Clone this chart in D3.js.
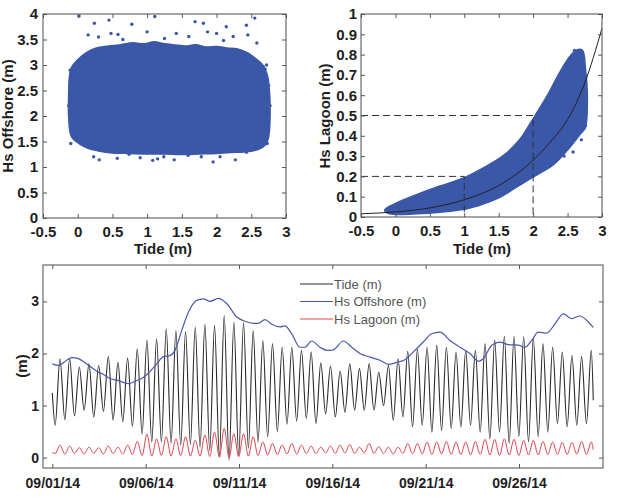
<!DOCTYPE html>
<html>
<head>
<meta charset="utf-8">
<script src="https://cdn.jsdelivr.net/npm/d3@7"></script>
<style>
body { margin: 0; background: #fff; }
svg { font-family: "Liberation Sans", Arial, sans-serif; }
</style>
</head>
<body>
<div id="chart"></div>
<script>
// ---- data ----

// top left: Hs offshore vs tide, dense cloud outline + loose points
var offCloudTide = [-0.11, -0.08, 0.0, 0.1, 0.2, 0.3, 0.45, 0.6, 0.8, 0.95, 1.1, 1.25, 1.4, 1.55, 1.7, 1.85, 2.0, 2.15, 2.3, 2.45, 2.55, 2.65, 2.72, 2.75, 2.76, 2.74, 2.7, 2.6, 2.4, 2.2, 2.0, 1.75, 1.5, 1.25, 1.0, 0.75, 0.5, 0.3, 0.15, 0.05, -0.08, -0.12, -0.12];
var offCloudHs   = [2.75, 2.95, 3.08, 3.2, 3.28, 3.33, 3.36, 3.38, 3.42, 3.4, 3.44, 3.4, 3.38, 3.36, 3.38, 3.34, 3.35, 3.32, 3.3, 3.22, 3.12, 3.0, 2.8, 2.5, 2.0, 1.6, 1.45, 1.36, 1.31, 1.3, 1.28, 1.27, 1.26, 1.27, 1.27, 1.28, 1.29, 1.33, 1.38, 1.45, 1.6, 2.0, 2.4];
var offOutTide = [0.02, 0.24, 0.45, 0.78, 1.11, 1.69, 1.81, 2.14, 2.43, 2.55, 2.58, 2.67, 2.7, -0.1, 2.73, 0.31, 1.08, 1.95, 2.27,
                  0.15, 0.3, 0.48, 0.58, 1.0, 1.42, 1.6, 1.87, 2.0, 2.24, 2.45, 0.65, 1.25, 2.1,
                  0.23, 0.57, 0.74, 1.24, 1.39, 1.59, 1.78, 2.05, 2.43, 2.58, 0.9, 1.15,
                  -0.11, -0.08, 2.72, 2.75, -0.13, 2.77];
var offOutHs   = [3.96, 3.82, 3.88, 3.8, 3.95, 3.85, 3.82, 3.75, 3.78, 3.92, 3.43, 2.97, 2.92, 1.46, 1.46, 1.14, 1.13, 1.1, 1.14,
                  3.59, 3.55, 3.62, 3.6, 3.65, 3.62, 3.56, 3.65, 3.62, 3.56, 3.59, 3.5, 3.52, 3.48,
                  1.2, 1.17, 1.25, 1.2, 1.14, 1.23, 1.2, 1.2, 1.29, 1.38, 1.18, 1.16,
                  2.9, 2.64, 3.0, 2.6, 2.2, 2.2];

// top right: Hs lagoon vs tide, band outline + fitted curve
var lagCloudTide = [-0.15, 0.02, 0.31, 0.65, 0.99, 1.28, 1.57, 1.81, 2.0, 2.2, 2.39, 2.54, 2.63, 2.71, 2.75, 2.78, 2.75, 2.68, 2.49, 2.29, 2.0, 1.76, 1.52, 1.28, 1.04, 0.65, 0.31, -0.08];
var lagCloudHs   = [0.034, 0.067, 0.108, 0.15, 0.19, 0.24, 0.30, 0.38, 0.48, 0.59, 0.71, 0.79, 0.82, 0.82, 0.74, 0.58, 0.44, 0.41, 0.33, 0.26, 0.20, 0.15, 0.10, 0.067, 0.043, 0.026, 0.018, 0.018];
var lagOutTide = [2.6, 2.66, 2.58, 2.7, 2.76, 2.45];
var lagOutHs   = [0.82, 0.815, 0.32, 0.38, 0.45, 0.3];
var fitTide = [-0.5, 0, 0.5, 1, 1.5, 2, 2.25, 2.5, 2.75, 3];
var fitHs   = [0.016, 0.025, 0.045, 0.085, 0.155, 0.28, 0.37, 0.48, 0.66, 0.93];
var guideTide = [1, 2];
var guideHs   = [0.2, 0.5];

// bottom: time series, days counted from 09/01/14 00:00
var seriesStart = Date.UTC(2014, 8, 1);
var firstHighDay = 0.41;      // first high water
var tidalCycle = 0.5175;      // days between high waters
var tideStart = 1.24, tideEnd = 1.1, tideEndDay = 28.98;
var tideHigh = [1.90, 1.90, 1.74, 1.80, 1.77, 1.94, 1.83, 1.91, 2.09, 2.26, 2.28, 2.48, 2.44, 2.42, 2.51, 2.56, 2.54, 2.73, 2.60, 2.59, 2.44, 2.25, 2.19, 2.12, 2.12, 2.06, 2.03,
                1.82, 1.76, 1.66, 1.80, 1.71, 1.80, 1.64, 1.77, 1.90, 2.04, 2.08, 2.12, 2.16, 2.12, 2.03, 2.06, 2.06, 2.19, 2.26, 2.33, 2.33, 2.32, 2.29, 2.19, 2.12, 2.03, 1.96, 1.94, 2.06];
var tideLow  = [0.62, 0.73, 0.80, 0.91, 0.78, 0.89, 0.72, 0.69, 0.60, 0.45, 0.30, 0.30, 0.27, 0.24, 0.25, 0.20, 0.13, 0.01, -0.05, 0.03, 0.18, 0.30, 0.40, 0.50, 0.64, 0.70, 0.75,
                0.65, 0.84, 0.78, 0.87, 0.91, 0.91, 0.91, 1.00, 0.72, 0.78, 0.59, 0.62, 0.49, 0.52, 0.56, 0.59, 0.62, 0.49, 0.36, 0.49, 0.27, 0.40, 0.30, 0.40, 0.49, 0.65, 0.59, 0.62, 0.65];
var lagStart = 0.1, lagEnd = 0.15;
var lagoonHigh = [0.24, 0.22, 0.19, 0.20, 0.19, 0.22, 0.20, 0.24,
                  0.31, 0.45, 0.36, 0.40, 0.36, 0.40, 0.33, 0.43, 0.49, 0.56, 0.46, 0.46, 0.40, 0.30, 0.27, 0.24, 0.27, 0.24, 0.22,
                  0.20, 0.22, 0.24, 0.25, 0.20, 0.27, 0.21, 0.20, 0.20, 0.27, 0.27, 0.30, 0.30, 0.31, 0.30, 0.30, 0.31, 0.35, 0.35, 0.36, 0.35, 0.33, 0.33, 0.31, 0.30, 0.29, 0.29, 0.31, 0.30];
var lagoonLow  = [0.08, 0.07, 0.08, 0.07, 0.08, 0.07, 0.08, 0.07, 0.06,
                  0.04, 0.03, 0.04, 0.03, 0.04, 0.03, 0.03, 0.02, 0.01, 0.0, 0.02, 0.03, 0.04, 0.05, 0.06, 0.07,
                  0.07, 0.08, 0.08, 0.09, 0.08, 0.09, 0.08, 0.09, 0.08, 0.08, 0.07, 0.08, 0.07, 0.07, 0.06, 0.07,
                  0.06, 0.06, 0.05, 0.06, 0.05, 0.04, 0.05, 0.04, 0.05, 0.05, 0.06, 0.06, 0.06, 0.07, 0.06];
var offDay = [0.0, 0.32, 0.77, 1.04, 1.39, 1.84, 2.38, 2.73, 3.09, 3.54, 4.07, 4.52, 4.79, 5.14, 5.59, 5.95, 6.30, 6.57, 6.93, 7.29, 7.73, 8.09, 8.45, 8.89, 9.34, 9.88, 10.32, 10.77, 11.03, 11.39,
              11.75, 12.20, 12.46, 12.82, 13.27, 13.54, 13.89, 14.34, 14.70, 15.05, 15.59, 16.04, 16.48, 17.02, 17.55, 18.00, 18.45, 18.89, 19.34, 19.87, 20.32, 20.77, 21.30, 21.84, 22.37, 22.82,
              23.09, 23.54, 23.98, 24.42, 24.96, 25.32, 25.68, 26.03, 26.48, 26.93, 27.37, 27.82, 28.26, 28.62, 28.98];
var offHs  = [1.80, 1.77, 1.87, 1.92, 1.90, 1.80, 1.66, 1.60, 1.52, 1.48, 1.42, 1.48, 1.52, 1.62, 1.80, 1.94, 1.96, 2.06, 2.44, 2.79, 3.02, 3.05, 3.00, 3.06, 2.96, 2.70, 2.62, 2.58, 2.58, 2.65,
              2.56, 2.51, 2.53, 2.38, 2.12, 2.12, 2.24, 2.12, 2.06, 2.07, 2.24, 2.12, 2.00, 1.93, 1.87, 1.79, 1.83, 1.88, 2.03, 2.22, 2.38, 2.41, 2.25, 2.12, 2.00, 1.85,
              1.90, 2.16, 2.22, 2.17, 2.16, 2.12, 2.25, 2.41, 2.39, 2.57, 2.76, 2.67, 2.72, 2.64, 2.50];

var dateTicks = ["2014-09-01", "2014-09-06", "2014-09-11", "2014-09-16", "2014-09-21", "2014-09-26"];
var legendLabels = ["Tide (m)", "Hs Offshore (m)", "Hs Lagoon (m)"];
var legendColors = ["#2a2a2a", "#4d58ad", "#e2434f"];

var scatterBlue = "#3a57a8";

// ---- svg ----
var svg = d3.select("#chart").append("svg")
    .attr("width", 630)
    .attr("height", 498);

function zip(a, b) { return a.map(function(d, i) { return [d, b[i]]; }); }
function dayDate(d) { return new Date(seriesStart + d * 864e5); }

// matlab-like box with inward ticks on all four sides
function drawAxes(xs, ys, xTicks, yTicks, xFmt, yFmt, fontSize, xPad, yPad) {
    var x0 = xs.range()[0], x1 = xs.range()[1];
    var y0 = ys.range()[1], y1 = ys.range()[0];
    var g = svg.append("g");

    g.append("rect")
        .attr("x", x0).attr("y", y0)
        .attr("width", x1 - x0).attr("height", y1 - y0)
        .attr("fill", "none")
        .attr("stroke", "#6a6a6a")
        .attr("stroke-width", 1.2);

    var axes = [
        [d3.axisBottom(xs).tickValues(xTicks).tickFormat(xFmt).tickPadding(xPad), "translate(0," + y1 + ")"],
        [d3.axisTop(xs).tickValues(xTicks).tickFormat(""), "translate(0," + y0 + ")"],
        [d3.axisLeft(ys).tickValues(yTicks).tickFormat(yFmt).tickPadding(yPad), "translate(" + x0 + ",0)"],
        [d3.axisRight(ys).tickValues(yTicks).tickFormat(""), "translate(" + x1 + ",0)"]
    ];
    axes.forEach(function(a) {
        var ax = g.append("g")
            .attr("transform", a[1])
            .call(a[0].tickSizeInner(-4).tickSizeOuter(0));
        ax.select(".domain").remove();
        ax.selectAll(".tick line").attr("stroke", "#555");
        ax.selectAll(".tick text")
            .attr("fill", "#1e1e1e")
            .attr("font-size", fontSize)
            .attr("font-weight", "bold")
            .attr("font-family", "'Liberation Sans', Arial, sans-serif");
    });
    return g;
}

function axisTitle(text, x, y, rotate) {
    svg.append("text")
        .attr("transform", "translate(" + x + "," + y + ")" + (rotate ? " rotate(-90)" : ""))
        .attr("text-anchor", "middle")
        .attr("font-size", 15)
        .attr("font-weight", "bold")
        .attr("fill", "#1e1e1e")
        .text(text);
}

var tideTicks = d3.range(-0.5, 3.01, 0.5);
// plain hyphen minus like the original ("-0.5")
var numFmt = function(d) { return String(+d.toFixed(1)); };

// ---- top left ----
var xTL = d3.scaleLinear().domain([-0.5, 3]).range([43, 286]);
var yTL = d3.scaleLinear().domain([0, 4]).range([218, 14]);

svg.append("path")
    .datum(zip(offCloudTide, offCloudHs))
    .attr("d", d3.line()
        .x(function(d) { return xTL(d[0]); })
        .y(function(d) { return yTL(d[1]); })
        .curve(d3.curveCatmullRomClosed))
    .attr("fill", scatterBlue)
    .attr("stroke", scatterBlue)
    .attr("stroke-width", 3)
    .attr("stroke-linejoin", "round");

svg.append("g").selectAll("circle")
    .data(zip(offOutTide, offOutHs))
    .enter().append("circle")
    .attr("cx", function(d) { return xTL(d[0]); })
    .attr("cy", function(d) { return yTL(d[1]); })
    .attr("r", 1.7)
    .attr("fill", scatterBlue);

drawAxes(xTL, yTL, tideTicks, d3.range(0, 4.01, 0.5), numFmt, numFmt, 15, 8, 5);
axisTitle("Hs Offshore (m)", 13, 116, true);
axisTitle("Tide (m)", 163, 254, false);

// ---- top right ----
var xTR = d3.scaleLinear().domain([-0.5, 3]).range([361, 602]);
var yTR = d3.scaleLinear().domain([0, 1]).range([217, 14]);

svg.append("path")
    .datum(zip(lagCloudTide, lagCloudHs))
    .attr("d", d3.line()
        .x(function(d) { return xTR(d[0]); })
        .y(function(d) { return yTR(d[1]); })
        .curve(d3.curveCatmullRomClosed))
    .attr("fill", scatterBlue)
    .attr("stroke", scatterBlue)
    .attr("stroke-width", 2.5)
    .attr("stroke-linejoin", "round");

svg.append("g").selectAll("circle")
    .data(zip(lagOutTide, lagOutHs))
    .enter().append("circle")
    .attr("cx", function(d) { return xTR(d[0]); })
    .attr("cy", function(d) { return yTR(d[1]); })
    .attr("r", 1.7)
    .attr("fill", scatterBlue);

svg.append("path")
    .datum(zip(fitTide, fitHs))
    .attr("d", d3.line()
        .x(function(d) { return xTR(d[0]); })
        .y(function(d) { return yTR(d[1]); })
        .curve(d3.curveMonotoneX))
    .attr("fill", "none")
    .attr("stroke", "#222")
    .attr("stroke-width", 1);

// dashed guides: horizontal from the axis, vertical down to 0
guideTide.forEach(function(t, i) {
    var gpath = d3.path();
    gpath.moveTo(xTR(-0.5), yTR(guideHs[i]));
    gpath.lineTo(xTR(t), yTR(guideHs[i]));
    gpath.lineTo(xTR(t), yTR(0));
    svg.append("path")
        .attr("d", gpath.toString())
        .attr("fill", "none")
        .attr("stroke", "#333")
        .attr("stroke-width", 1)
        .attr("stroke-dasharray", "7,4");
});

drawAxes(xTR, yTR, tideTicks, d3.range(0, 1.001, 0.1), numFmt, numFmt, 15, 8, 4);
axisTitle("Hs Lagoon (m)", 330, 116, true);
axisTitle("Tide (m)", 482, 254, false);

// ---- bottom time series ----
var xB = d3.scaleUtc()
    .domain([new Date(Date.UTC(2014, 7, 31, 12)), new Date(Date.UTC(2014, 8, 30, 12))])
    .range([43, 603]);
var yB = d3.scaleLinear().domain([-0.2, 3.7]).range([468, 265]);

// tide and lagoon series pass through each low and high water
var tideSeries = [[0, tideStart]], lagSeries = [[0, lagStart]];
tideHigh.forEach(function(h, i) {
    var hd = firstHighDay + i * tidalCycle;
    tideSeries.push([hd - tidalCycle / 2, tideLow[i]]);
    tideSeries.push([hd, h]);
    lagSeries.push([hd - tidalCycle / 2, lagoonLow[i]]);
    lagSeries.push([hd, lagoonHigh[i]]);
});
tideSeries.push([tideEndDay, tideEnd]);
lagSeries.push([tideEndDay, lagEnd]);

var lineB = d3.line()
    .x(function(d) { return xB(dayDate(d[0])); })
    .y(function(d) { return yB(d[1]); })
    .curve(d3.curveMonotoneX);

svg.append("path")
    .datum(tideSeries)
    .attr("d", lineB)
    .attr("fill", "none")
    .attr("stroke", legendColors[0])
    .attr("stroke-width", 1.1);

svg.append("path")
    .datum(zip(offDay, offHs))
    .attr("d", lineB)
    .attr("fill", "none")
    .attr("stroke", legendColors[1])
    .attr("stroke-width", 1.2);

svg.append("path")
    .datum(lagSeries)
    .attr("d", lineB)
    .attr("fill", "none")
    .attr("stroke", legendColors[2])
    .attr("stroke-width", 1);

drawAxes(xB, yB, dateTicks.map(function(d) { return new Date(d + "T00:00:00Z"); }), [0, 1, 2, 3],
    d3.utcFormat("%m/%d/%y"), d3.format("d"), 14, 10, 4);
axisTitle("(m)", 27, 366, true);

// legend (no box)
var legend = svg.append("g")
    .selectAll("g")
    .data(legendLabels)
    .enter().append("g")
    .attr("transform", function(d, i) { return "translate(300," + (284 + i * 17.5) + ")"; });

legend.append("line")
    .attr("x1", 0).attr("x2", 33)
    .attr("stroke", function(d, i) { return legendColors[i]; })
    .attr("stroke-width", 1);

legend.append("text")
    .attr("x", 34)
    .attr("dy", "0.35em")
    .attr("font-size", 13)
    .attr("fill", "#555")
    .text(function(d) { return d; });
</script>
</body>
</html>
